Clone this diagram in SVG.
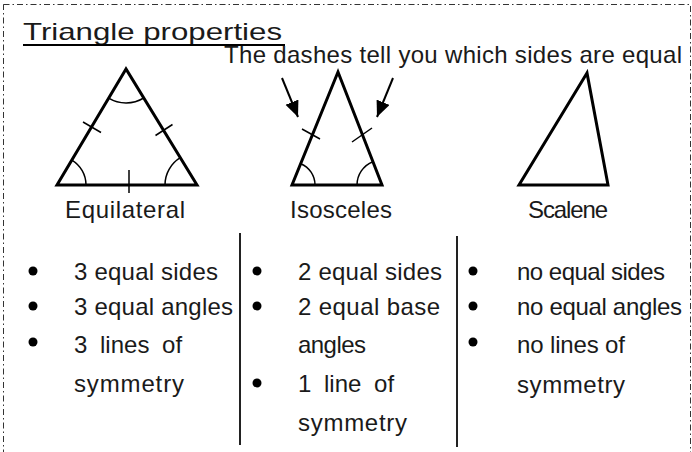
<svg xmlns="http://www.w3.org/2000/svg" width="692" height="452" viewBox="0 0 692 452">
<style>
.t{font-family:"Liberation Sans",Arial,sans-serif;fill:#1a1a1a;font-size:24px}
.tri{fill:none;stroke:#000;stroke-width:3;stroke-linejoin:miter}
.mk{fill:none;stroke:#000;stroke-width:1.5}
.div{stroke:#222;stroke-width:2}
.b{fill:#000}
.arr{stroke:#000;stroke-width:2;fill:none}
</style>
<defs>
<marker id="ah" markerUnits="userSpaceOnUse" markerWidth="17" markerHeight="15" refX="16" refY="7" orient="auto">
<path d="M0,0 L16,7 L0,14 z" fill="#000"/>
</marker>
</defs>
<rect x="3.5" y="4.5" width="687" height="470" fill="#fff" stroke="#333" stroke-width="1" stroke-dasharray="6 3 1.5 3"/>

<g id="title">
<text class="t" x="23" y="40" font-size="28" textLength="259" lengthAdjust="spacingAndGlyphs">Triangle properties</text>
<line x1="23" y1="45" x2="285" y2="45" stroke="#000" stroke-width="2"/>
</g>

<g id="annotation">
<text class="t" x="224" y="63" font-size="22" textLength="458" lengthAdjust="spacing">The dashes tell you which sides are equal</text>
</g>

<g id="equilateral">
<path class="tri" d="M126,69 L57,185 L197,185 Z"/>
<path class="mk" d="M108.6,98.2 A34,34 0 0,0 143.7,98"/>
<path class="mk" d="M86,185 A29,29 0 0,0 71.8,160.1"/>
<path class="mk" d="M165,185 A32,32 0 0,1 180.3,157.7"/>
<line class="mk" x1="83" y1="122" x2="101" y2="132.5"/>
<line class="mk" x1="155.5" y1="135.5" x2="172.5" y2="124.5"/>
<line class="mk" x1="129" y1="170" x2="129" y2="193"/>
<text class="t" x="65" y="218" textLength="120" lengthAdjust="spacing">Equilateral</text>
</g>

<g id="isosceles">
<path class="tri" d="M338,72 L292,185 L382,185 Z"/>
<path class="mk" d="M315,185 A23,23 0 0,0 300.7,163.7"/>
<path class="mk" d="M357,185 A25,25 0 0,1 372.9,161.7"/>
<line class="mk" x1="302" y1="129" x2="320" y2="139"/>
<line class="mk" x1="352" y1="142" x2="372" y2="128"/>
<text class="t" x="290" y="218" textLength="102" lengthAdjust="spacing">Isosceles</text>
</g>

<g id="scalene">
<path class="tri" d="M587,73 L519,185 L608,185 Z"/>
<text class="t" x="528" y="218" textLength="80" lengthAdjust="spacing">Scalene</text>
</g>

<g id="connectors">
<line class="arr" x1="282" y1="78" x2="298" y2="117" marker-end="url(#ah)"/>
<line class="arr" x1="393" y1="78" x2="377" y2="117" marker-end="url(#ah)"/>
</g>

<g id="dividers">
<line class="div" x1="240" y1="233" x2="240" y2="445"/>
<line class="div" x1="457" y1="236" x2="457" y2="447"/>
</g>

<g id="list-equilateral">
<circle class="b" cx="33" cy="271" r="4.5"/>
<circle class="b" cx="33" cy="306" r="4.5"/>
<circle class="b" cx="33" cy="342" r="4.5"/>
<text class="t" x="74" y="280" textLength="144" lengthAdjust="spacing">3 equal sides</text>
<text class="t" x="74" y="315" textLength="159" lengthAdjust="spacing">3 equal angles</text>
<text class="t" x="74" y="353" word-spacing="6">3 lines of</text>
<text class="t" x="74" y="392" textLength="110" lengthAdjust="spacing">symmetry</text>
</g>

<g id="list-isosceles">
<circle class="b" cx="257" cy="271" r="4.5"/>
<circle class="b" cx="257" cy="306" r="4.5"/>
<circle class="b" cx="257" cy="383" r="4.5"/>
<text class="t" x="298" y="280" textLength="144" lengthAdjust="spacing">2 equal sides</text>
<text class="t" x="298" y="315" textLength="142" lengthAdjust="spacing">2 equal base</text>
<text class="t" x="298" y="353" textLength="68" lengthAdjust="spacing">angles</text>
<text class="t" x="298" y="392" word-spacing="6">1 line of</text>
<text class="t" x="298" y="431" textLength="109" lengthAdjust="spacing">symmetry</text>
</g>

<g id="list-scalene">
<circle class="b" cx="473" cy="271" r="4.5"/>
<circle class="b" cx="473" cy="306" r="4.5"/>
<circle class="b" cx="473" cy="342" r="4.5"/>
<text class="t" x="517" y="280" textLength="148" lengthAdjust="spacing">no equal sides</text>
<text class="t" x="517" y="315" textLength="165" lengthAdjust="spacing">no equal angles</text>
<text class="t" x="517" y="353" textLength="108" lengthAdjust="spacing">no lines of</text>
<text class="t" x="517" y="393" textLength="108" lengthAdjust="spacing">symmetry</text>
</g>
</svg>
